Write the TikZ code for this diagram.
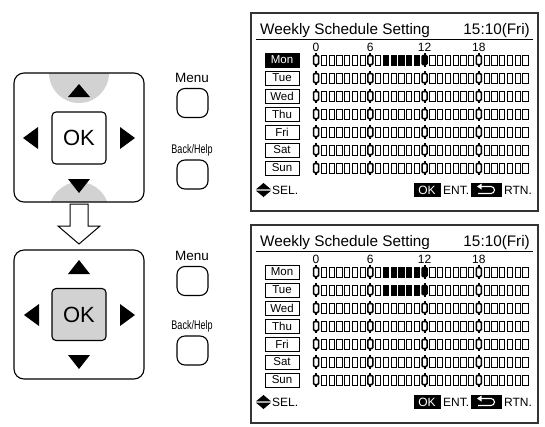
\documentclass[tikz,border=0pt]{standalone}
\usepackage{fontspec}
\setmainfont{Liberation Sans}
\definecolor{padgray}{HTML}{D2D2D2}
\tikzset{
  outline/.style={draw, line width=1pt},
  padbox/.style={draw, line width=1.1pt, rounded corners=10pt},
  okbox/.style={draw, line width=1.1pt, rounded corners=4pt, minimum width=54pt, minimum height=52pt, inner sep=0pt, font=\fontsize{22}{22}\selectfont},
  keybtn/.style={draw, line width=1.1pt, rounded corners=8pt, minimum width=31pt, minimum height=29pt, inner sep=0pt},
  keylbl/.style={inner sep=0pt, font=\fontsize{13.5}{13.5}\selectfont},
  keylblc/.style={inner sep=0pt, font=\fontsize{12.5}{12.5}\selectfont, xscale=0.72},
  scr/.style={draw, line width=1.2pt, draw=black!80},
  titletext/.style={inner sep=0pt, font=\fontsize{15.3}{15.3}\selectfont},
  hourlbl/.style={inner sep=0pt, font=\fontsize{12}{12}\selectfont},
  dayb/.style={draw, line width=0.7pt, minimum width=34pt, minimum height=14pt, inner sep=0pt, font=\fontsize{11.5}{11.5}\selectfont},
  botlbl/.style={inner sep=0pt, font=\fontsize{12}{12}\selectfont},
  blackbox/.style={fill=black, text=white, minimum height=14pt, inner sep=0pt, font=\fontsize{12}{12}\selectfont}
}
% one row of the schedule grid: #1 = y, #2..#3 = range of filled cells
\newcommand\gridrow[3]{%
  \foreach \i in {0,...,27}{%
    \pgfmathsetmacro\xx{313+7.75*\i}%
    \pgfmathtruncatemacro\mk{mod(\i,7)==0 ? 1 : 0}%
    \pgfmathtruncatemacro\bk{((\i>=#2) && (\i<=#3)) ? 1 : 0}%
    \ifnum\bk=1 \fill (\xx+0.3,#1-5) rectangle ++(5.4,10);\fi
    \ifnum\mk=1
      \draw[line width=1.5pt, rounded corners=1pt] (\xx+0.5,#1-4.5) rectangle ++(5,9);
      \draw[line width=2pt] (\xx+3,#1-7) -- (\xx+3,#1-4);
      \draw[line width=2pt] (\xx+3,#1+4) -- (\xx+3,#1+7);
    \else
      \draw[line width=0.6pt] (\xx+0.3,#1-5) rectangle ++(5.4,10);
    \fi
  }%
}
% a screen: #1 = name suffix, #2 = 1 (Mon selected) or 2 (Mon+Tue filled)
\newcommand\screen[2]{%
  \draw[scr] (251,13) rectangle (538,211);
  \node[titletext, anchor=base west] (title#1) at (260,34) {Weekly Schedule Setting};
  \node[titletext, anchor=base east] (time#1) at (530,34) {15:10(Fri)};
  \draw[line width=1pt] (256,39) -- (533,39);
  \node[hourlbl] (h0#1) at (316,47) {0};
  \node[hourlbl] (h6#1) at (370.25,47) {6};
  \node[hourlbl] (h12#1) at (424.5,47) {12};
  \node[hourlbl] (h18#1) at (478.75,47) {18};
  \foreach \d [count=\k from 0] in {Mon,Tue,Wed,Thu,Fri,Sat,Sun}{%
    \node[dayb] (\d#1) at (282,60+18*\k) {\d};
  }
  \ifnum#2=1
    \node[dayb, fill=black, text=white] (MonSel#1) at (282,60) {Mon};
    \gridrow{60}{9}{14}
    \gridrow{78}{99}{0}
  \else
    \gridrow{60}{9}{14}
    \gridrow{78}{9}{14}
  \fi
  \foreach \k in {2,...,6}{\gridrow{60+18*\k}{99}{0}}
  % bottom legend
  \fill (263.5,183) -- (271,189.3) -- (256,189.3) -- cycle;
  \fill (256,190.7) -- (271,190.7) -- (263.5,197) -- cycle;
  \node[botlbl, anchor=west] (sel#1) at (272,190) {SEL.};
  \node[blackbox, minimum width=27pt] (ok#1) at (427,190) {OK};
  \node[botlbl, anchor=west] (ent#1) at (443,190) {ENT.};
  \node[blackbox, minimum width=31pt] (rtn#1) at (486,190) {};
  \draw[white, line width=1.1pt] (481,186.5) -- (491,186.5) arc[start angle=90, end angle=-90, radius=3.5pt] -- (478,193.5);
  \fill[white] (477,186.5) -- (481.5,183.5) -- (481.5,189.5) -- cycle;
  \node[botlbl, anchor=west] (rt#1) at (504,190) {RTN.};
}
\begin{document}
\begin{tikzpicture}[x=1pt, y=-1pt]
\useasboundingbox (0,0) rectangle (545,426);
\fill[white] (0,0) rectangle (545,426);

% ---------- top keypad ----------
\begin{scope}
  \clip[rounded corners=10pt] (14,73) rectangle (144,202);
  \fill[padgray] (79,73) circle (30pt);
  \fill[padgray] (79,212) circle (30pt);
\end{scope}
\draw[padbox] (14,73) rectangle (144,202);
\node[okbox] (ok1) at (79,138) {OK};
\fill (79,84) -- (90,97) -- (68,97) -- cycle;
\fill (68,179) -- (90,179) -- (79,193) -- cycle;
\fill (23,138) -- (38,127) -- (38,149) -- cycle;
\fill (135,138) -- (120,127) -- (120,149) -- cycle;
\node[keylbl] (menu1) at (192,78) {Menu};
\node[keybtn] (menub1) at (192.5,103) {};
\node[keylbl, keylblc] (back1) at (192,150) {Back/Help};
\node[keybtn] (backb1) at (192.5,174.5) {};

% ---------- hollow arrow ----------
\draw[line width=1pt, line join=miter] (70,204) -- (88,204) -- (88,226) -- (100,226) -- (79,244) -- (58,226) -- (70,226) -- cycle;

% ---------- bottom keypad ----------
\draw[padbox] (14,250) rectangle (144,379);
\node[okbox, fill=padgray] (ok2) at (79,314.5) {OK};
\fill (79,260) -- (90,274) -- (68,274) -- cycle;
\fill (68,355) -- (90,355) -- (79,369) -- cycle;
\fill (24,315) -- (39,304) -- (39,326) -- cycle;
\fill (135,315) -- (120,304) -- (120,326) -- cycle;
\node[keylbl] (menu2) at (192,256) {Menu};
\node[keybtn] (menub2) at (192.5,281) {};
\node[keylbl, keylblc] (back2) at (192,326) {Back/Help};
\node[keybtn] (backb2) at (192.5,350.5) {};

% ---------- screens ----------
\screen{a}{1}
\begin{scope}[yshift=-212pt]
\screen{b}{2}
\end{scope}
\end{tikzpicture}
\end{document}
